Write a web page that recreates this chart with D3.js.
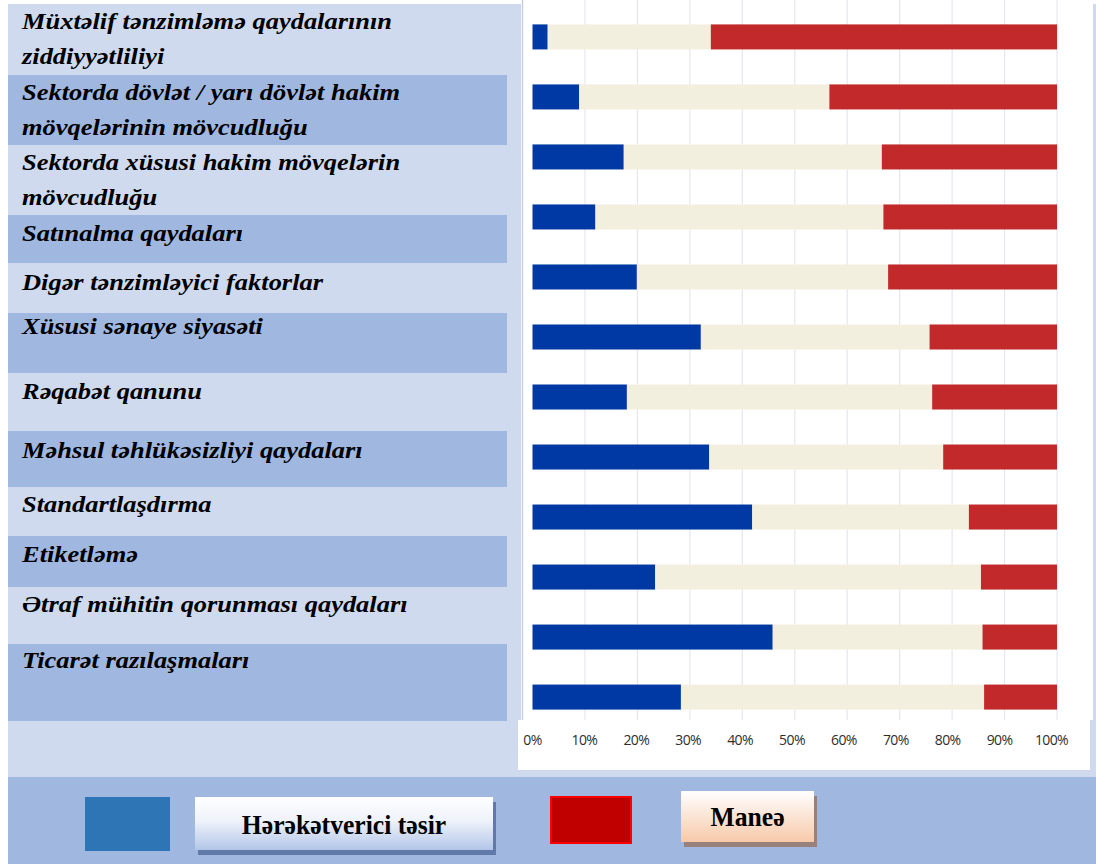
<!DOCTYPE html>
<html>
<head>
<meta charset="utf-8">
<script src="https://cdn.jsdelivr.net/npm/d3@7/dist/d3.min.js"></script>
<style>
body { margin: 0; background: #fff; }
svg { display: block; }
.lbl { font-family: "Liberation Serif", "Times New Roman", serif; font-weight: bold; font-style: italic; font-size: 23px; fill: #000; }
.legtext { font-family: "Liberation Serif", "Times New Roman", serif; font-weight: bold; font-size: 27px; fill: #000; }
.x.axis text { font-family: "Open Sans", sans-serif; font-size: 14px; fill: #2e2e2e; letter-spacing: -0.6px; }
</style>
</head>
<body>
<div id="chart"></div>
<script>
// categories, top to bottom ("\n" = line break in the label box)
var categories = [
    "Müxtəlif tənzimləmə qaydalarının\nziddiyyətliliyi",
    "Sektorda dövlət / yarı dövlət hakim\nmövqelərinin mövcudluğu",
    "Sektorda xüsusi hakim mövqelərin\nmövcudluğu",
    "Satınalma qaydaları",
    "Digər tənzimləyici faktorlar",
    "Xüsusi sənaye siyasəti",
    "Rəqabət qanunu",
    "Məhsul təhlükəsizliyi qaydaları",
    "Standartlaşdırma",
    "Etiketləmə",
    "Ətraf mühitin qorunması qaydaları",
    "Ticarət razılaşmaları"
];
// shares in %
var driving = [2.9, 8.9, 17.4, 12.0, 19.9, 32.1, 18.0, 33.7, 41.9, 23.4, 45.8, 28.3];   // Hərəkətverici təsir
var neutral = [31.1, 47.7, 49.2, 54.9, 47.9, 43.6, 58.2, 44.6, 41.3, 62.1, 40.0, 57.8];
var barrier = [66.0, 43.4, 33.4, 33.1, 32.2, 24.3, 23.8, 21.7, 16.8, 14.5, 14.2, 13.9]; // Maneə
var xTicks = [0, 10, 20, 30, 40, 50, 60, 70, 80, 90, 100];
var legendLabels = ["Hərəkətverici təsir", "Maneə"];

// left label panel is a table with uneven rows
var bandEdges = [4, 75, 145, 215, 263, 313, 373, 431, 487, 536, 587, 644, 721];
var labelBase = [29, 100, 170, 241, 290, 334, 399, 458, 512, 562, 612, 668];

var W = 1096, H = 864;
var lightBg = "#cfdaee", darkBg = "#a0b7e0";
var colors = { driving: "#0039a3", neutral: "#f3efdf", barrier: "#c1292a" };

var svg = d3.select("#chart").append("svg")
    .attr("width", W)
    .attr("height", H);

var defs = svg.append("defs");
var g1 = defs.append("linearGradient").attr("id", "btnBlue").attr("x1", 0).attr("y1", 0).attr("x2", 0).attr("y2", 1);
g1.append("stop").attr("offset", "0%").attr("stop-color", "#ffffff");
g1.append("stop").attr("offset", "45%").attr("stop-color", "#eef2fa");
g1.append("stop").attr("offset", "100%").attr("stop-color", "#b3c6e8");
var g2 = defs.append("linearGradient").attr("id", "btnPeach").attr("x1", 0).attr("y1", 0).attr("x2", 0).attr("y2", 1);
g2.append("stop").attr("offset", "0%").attr("stop-color", "#ffffff");
g2.append("stop").attr("offset", "100%").attr("stop-color", "#f7c9a9");

// slide background
svg.append("rect").attr("x", 8).attr("y", 4).attr("width", W - 8).attr("height", 773).attr("fill", lightBg);
svg.append("rect").attr("x", 8).attr("y", 777).attr("width", W - 8).attr("height", H - 777).attr("fill", darkBg);

// label bands
var bands = svg.append("g").attr("class", "bands");
categories.forEach(function(c, i) {
    if (i % 2 === 1) {
        bands.append("rect")
            .attr("x", 8)
            .attr("y", bandEdges[i])
            .attr("width", 499)
            .attr("height", bandEdges[i + 1] - bandEdges[i])
            .attr("fill", darkBg);
    }
    var t = bands.append("text")
        .attr("class", "lbl")
        .attr("transform", "translate(22," + labelBase[i] + ") scale(1.15,1)");
    c.split("\n").forEach(function(line, j) {
        t.append("tspan").attr("x", 0).attr("y", j * 35).text(line);
    });
});

// chart picture
svg.append("rect").attr("x", 521).attr("y", 0).attr("width", 572).attr("height", 720).attr("fill", "#fff");
svg.append("rect").attr("x", 518).attr("y", 720).attr("width", 572).attr("height", 50).attr("fill", "#fff");

var x = d3.scaleLinear().domain([0, 100]).range([532.5, 1057]);
var y = d3.scaleBand().domain(categories).range([7, 727])
    .paddingInner(0.583).paddingOuter(0.29);

// gridlines
svg.append("g").attr("class", "grid")
    .selectAll("line")
    .data(xTicks.slice(1))
    .enter().append("line")
    .attr("x1", function(d) { return x(d); })
    .attr("x2", function(d) { return x(d); })
    .attr("y1", 0)
    .attr("y2", 720)
    .attr("stroke", "#e6e7ee")
    .attr("stroke-width", 1.2);

svg.append("line")
    .attr("x1", 522.5).attr("x2", 522.5)
    .attr("y1", 0).attr("y2", 720)
    .attr("stroke", "#c6cfe2")
    .attr("stroke-width", 1.5);

var table = categories.map(function(c, i) {
    return { cat: c, driving: driving[i], neutral: neutral[i], barrier: barrier[i] };
});
var stack = d3.stack().keys(["driving", "neutral", "barrier"]);
var series = stack(table);

svg.append("g").attr("class", "bars")
    .selectAll("g")
    .data(series)
    .enter().append("g")
    .attr("fill", function(s) { return colors[s.key]; })
    .selectAll("rect")
    .data(function(s) { return s; })
    .enter().append("rect")
    .attr("x", function(d) { return x(d[0]); })
    .attr("y", function(d) { return y(d.data.cat); })
    .attr("width", function(d) { return x(d[1]) - x(d[0]); })
    .attr("height", y.bandwidth());

// axis labels sit on a separately pasted strip, slightly narrower than the plot
var xAxisScale = d3.scaleLinear().domain([0, 100]).range([532, 1051]);
var xAxis = d3.axisBottom(xAxisScale)
    .tickValues(xTicks)
    .tickFormat(function(d) { return d + "%"; })
    .tickSize(0)
    .tickPadding(0);

svg.append("g")
    .attr("class", "x axis")
    .attr("transform", "translate(0,735)")
    .call(xAxis)
    .call(function(g) { g.select(".domain").remove(); });

// legend
var leg = svg.append("g").attr("class", "legend");
leg.append("rect").attr("x", 85).attr("y", 797).attr("width", 85).attr("height", 54).attr("fill", "#2e75b6");
leg.append("rect").attr("x", 198).attr("y", 802).attr("width", 298).attr("height", 53).attr("fill", "#6079a8");
leg.append("rect").attr("x", 195).attr("y", 797).attr("width", 298).attr("height", 53).attr("fill", "url(#btnBlue)");
leg.append("text").attr("class", "legtext")
    .attr("transform", "translate(344,834) scale(0.95,1)")
    .attr("text-anchor", "middle")
    .text(legendLabels[0]);

leg.append("rect").attr("x", 551).attr("y", 797).attr("width", 80).attr("height", 46)
    .attr("fill", "#c00000").attr("stroke", "#ff0000").attr("stroke-width", 2);
leg.append("rect").attr("x", 684).attr("y", 796).attr("width", 133).attr("height", 51).attr("fill", "#98807c");
leg.append("rect").attr("x", 681).attr("y", 791).attr("width", 133).attr("height", 51).attr("fill", "url(#btnPeach)");
leg.append("text").attr("class", "legtext")
    .attr("transform", "translate(747.5,826) scale(0.95,1)")
    .attr("text-anchor", "middle")
    .text(legendLabels[1]);
</script>
</body>
</html>
